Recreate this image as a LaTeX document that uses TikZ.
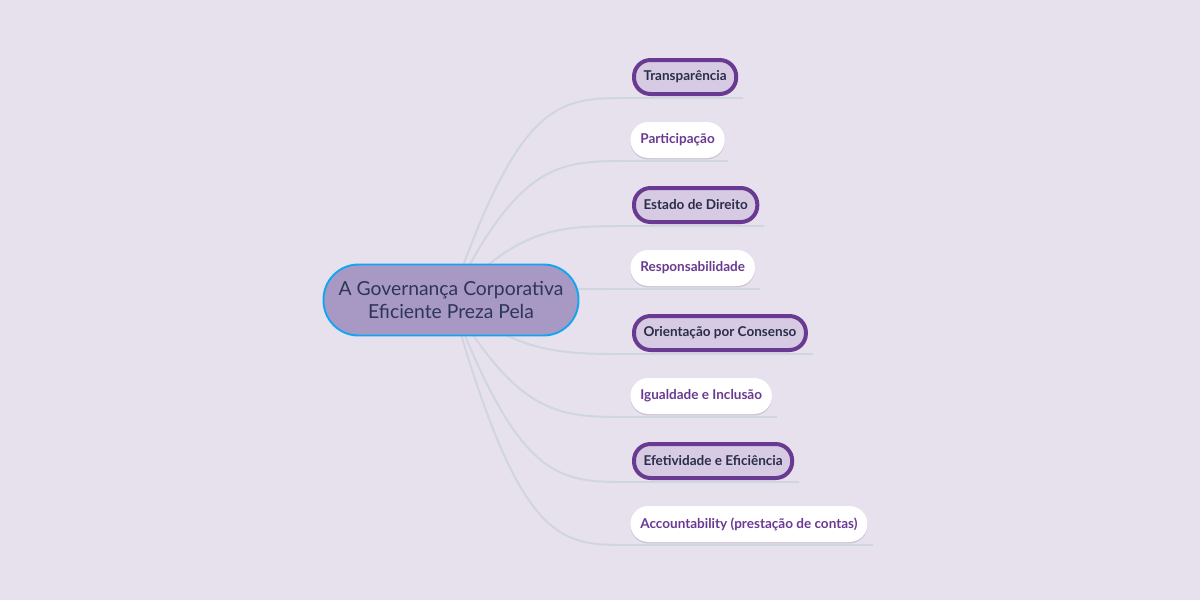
\documentclass[tikz,border=0pt]{standalone}
\usepackage{fontspec}
\setmainfont{Lato}
\usetikzlibrary{shadows}

\definecolor{bgcol}{HTML}{E7E0ED}
\definecolor{hubfill}{HTML}{A898C4}
\definecolor{hubline}{HTML}{14A5F0}
\definecolor{hubtext}{HTML}{2E3656}
\definecolor{purp}{HTML}{6A3A92}
\definecolor{lilac}{HTML}{D6CBE3}
\definecolor{navy}{HTML}{2B2D4A}
\definecolor{linkcol}{HTML}{CFD6DF}

\tikzset{
  link/.style={draw=linkcol, line width=1.1pt},
  hub/.style={draw=hubline, fill=hubfill, line width=1.1pt, text=hubtext,
    rounded corners=0.7cm, minimum width=5.1cm, minimum height=1.42cm,
    align=center, font=\fontsize{11}{13.6}\selectfont},
  ringed/.style={anchor=west, draw=purp, fill=lilac, line width=0.08cm, text=navy,
    rounded corners=0.33cm, minimum height=0.68cm, inner xsep=0.19cm,
    font=\bfseries\fontsize{7.7}{9}\selectfont,
    drop shadow={shadow xshift=0pt, shadow yshift=-0.8pt, opacity=0.12, fill=black}},
  bare/.style={anchor=west, fill=white, text=purp,
    rounded corners=0.36cm, minimum height=0.72cm, inner xsep=0.2cm,
    font=\bfseries\fontsize{7.7}{9}\selectfont,
    drop shadow={shadow xshift=0pt, shadow yshift=-0.8pt, opacity=0.12, fill=black}}
}

\begin{document}
\begin{tikzpicture}[x=0.02cm,y=-0.02cm]
\useasboundingbox (0,0) rectangle (1200,600);
\fill[bgcol] (0,0) rectangle (1200,600);

% topics
\node[ringed] (1) at (632,77) {Transparência};
\node[bare] (2) at (630,140) {Participação};
\node[ringed] (3) at (632,205) {Estado de Direito};
\node[bare] (4) at (630,268) {Responsabilidade};
\node[ringed] (5) at (632,333) {Orientação por Consenso};
\node[bare] (6) at (630,396) {Igualdade e Inclusão};
\node[ringed] (7) at (632,461) {Efetividade e Eficiência};
\node[bare] (8) at (630,524) {Accountability (prestação de contas)};

% start of each underline
\coordinate (a1) at (628,98);
\coordinate (a2) at (628,161);
\coordinate (a3) at (628,226);
\coordinate (a4) at (628,289);
\coordinate (a5) at (628,354);
\coordinate (a6) at (628,417);
\coordinate (a7) at (628,482);
\coordinate (a8) at (628,545);

\coordinate (c0) at (451,300);

\draw[link] (c0) .. controls (520,98) and (560,98) .. (a1) -- ([shift={(5,21)}]1.east);
\draw[link] (c0) .. controls (520,161) and (560,161) .. (a2) -- ([shift={(3,21)}]2.east);
\draw[link] (c0) .. controls (520,226) and (560,226) .. (a3) -- ([shift={(5,21)}]3.east);
\draw[link] (c0) .. controls (520,289) and (560,289) .. (a4) -- ([shift={(5,21)}]4.east);
\draw[link] (c0) .. controls (520,354) and (560,354) .. (a5) -- ([shift={(5,21)}]5.east);
\draw[link] (c0) .. controls (520,417) and (560,417) .. (a6) -- ([shift={(5,21)}]6.east);
\draw[link] (c0) .. controls (520,482) and (560,482) .. (a7) -- ([shift={(5,21)}]7.east);
\draw[link] (c0) .. controls (520,545) and (560,545) .. (a8) -- ([shift={(5,21)}]8.east);

% centre
\node[hub] (c) at (c0) {A Governança Corporativa\\Eficiente Preza Pela};
\end{tikzpicture}
\end{document}
